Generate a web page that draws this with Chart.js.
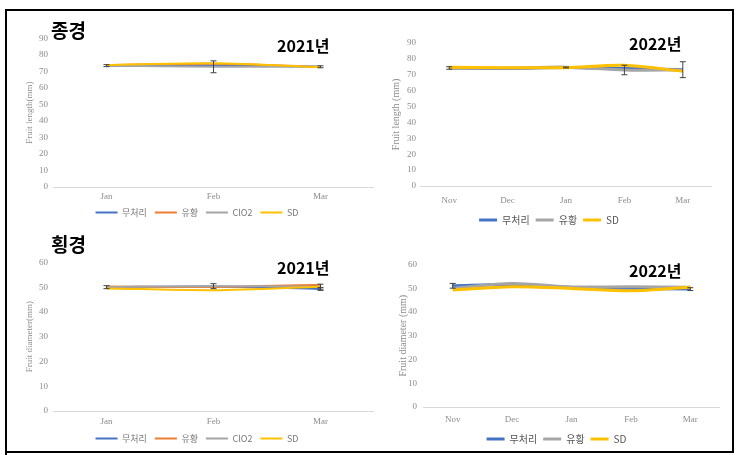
<!DOCTYPE html>
<html><head><meta charset="utf-8">
<script src="https://cdn.jsdelivr.net/npm/chart.js@4/dist/chart.umd.min.js"></script>
<style>
body{margin:0;background:#fff;width:739px;height:455px;position:relative;overflow:hidden;font-family:"Noto Sans CJK KR",sans-serif}
.box{position:absolute}
.t{position:absolute;font-weight:bold;color:#000;line-height:1;white-space:nowrap;font-family:"Noto Sans CJK KR",sans-serif}
#frame{position:absolute;left:5px;top:9px;width:725px;height:440px;border:2px solid #000}
#ext{position:absolute;left:5px;top:451px;width:2px;height:4px;background:#000}
</style></head><body>
<div class="box" id="b1" style="left:20px;top:28px;width:354px;height:199px"><canvas id="c1"></canvas></div>
<div class="box" id="b2" style="left:386px;top:33px;width:326px;height:202px"><canvas id="c2"></canvas></div>
<div class="box" id="b3" style="left:20px;top:252px;width:354px;height:201px"><canvas id="c3"></canvas></div>
<div class="box" id="b4" style="left:393px;top:253px;width:327px;height:201px"><canvas id="c4"></canvas></div>
<div class="t" style="left:51px;top:20px;font-size:19px">종경</div>
<div class="t" style="left:51px;top:234px;font-size:19px">횡경</div>
<div class="t" style="left:277px;top:37px;font-size:16px">2021년</div>
<div class="t" style="left:629px;top:35px;font-size:16px">2022년</div>
<div class="t" style="left:277px;top:259px;font-size:16px">2021년</div>
<div class="t" style="left:629px;top:262px;font-size:16px">2022년</div>
<div id="frame"></div><div id="ext"></div>
<script>
// ---- categories ----
const months2021 = ['Jan', 'Feb', 'Mar'];
const months2022 = ['Nov', 'Dec', 'Jan', 'Feb', 'Mar'];
const names2021 = ['무처리', '유황', 'ClO2', 'SD'];
const names2022 = ['무처리', '유황', 'SD'];

// ---- fruit length 2021 ----
const len2021Control = [73.5, 73.6, 72.8];
const len2021Sulfur  = [73.8, 74.6, 72.8];
const len2021ClO2    = [73.6, 72.8, 73.0];
const len2021SD      = [73.9, 75.0, 72.6];
const len2021ControlErr = [0.6, 0, 0.6];
const len2021ClO2Err    = [0, 3.6, 0];

// ---- fruit length 2022 ----
const len2022Control = [74.3, 74.0, 74.6, 74.0, 73.2];
const len2022Sulfur  = [74.0, 74.2, 74.8, 73.0, 73.0];
const len2022SD      = [74.8, 74.5, 74.5, 76.0, 72.2];
const len2022ControlErr = [0.8, 0, 0.3, 0, 5.0];
const len2022SulfurErr  = [0, 0, 0, 3.0, 0];

// ---- fruit diameter 2021 ----
const dia2021Control = [50.0, 50.3, 49.3];
const dia2021Sulfur  = [50.3, 50.1, 51.0];
const dia2021ClO2    = [50.1, 50.4, 50.2];
const dia2021SD      = [49.5, 48.8, 50.2];
const dia2021ControlErr = [0.6, 0, 0.6];
const dia2021ClO2Err    = [0, 1.0, 1.0];

// ---- fruit diameter 2022 ----
const dia2022Control = [51.0, 51.5, 50.3, 50.0, 49.6];
const dia2022Sulfur  = [50.0, 52.0, 50.5, 50.6, 50.4];
const dia2022SD      = [49.2, 50.6, 49.9, 48.9, 50.4];
const dia2022ControlErr = [1.0, 0, 0, 0, 0.6];

const COLORS = {'무처리':'#4472C4','유황':'#ED7D31','ClO2':'#A5A5A5','SD':'#FFC000'};
const COLORS22 = {'무처리':'#4472C4','유황':'#A5A5A5','SD':'#FFC000'};

const errorBars = {
  id: 'errorBars',
  afterDatasetsDraw(chart) {
    const {ctx, scales: {x, y}} = chart;
    chart.data.datasets.forEach(ds => {
      if (!ds.errors) return;
      ds.data.forEach((v, j) => {
        const e = ds.errors[j]; if (!e) return;
        const px = x.getPixelForValue(j);
        const top = y.getPixelForValue(v + e), bot = y.getPixelForValue(v - e);
        ctx.save(); ctx.strokeStyle = '#404040'; ctx.lineWidth = 1;
        ctx.beginPath();
        ctx.moveTo(px, top); ctx.lineTo(px, bot);
        ctx.moveTo(px - 3, top); ctx.lineTo(px + 3, top);
        ctx.moveTo(px - 3, bot); ctx.lineTo(px + 3, bot);
        ctx.stroke(); ctx.restore();
      });
    });
  }
};

function makeChart(id, cfg) {
  const n = cfg.series.length;
  const datasets = cfg.series.map((s, i) => ({
    label: s.name, data: s.data, errors: s.err,
    borderColor: cfg.colors[s.name], backgroundColor: cfg.colors[s.name],
    borderWidth: cfg.lw, pointRadius: 0, tension: 0.3, order: n - i
  }));
  new Chart(document.getElementById(id), {
    type: 'line',
    data: {labels: cfg.labels, datasets},
    plugins: [errorBars],
    options: {
      responsive: true, maintainAspectRatio: false, animation: false, devicePixelRatio: 1,
      layout: {padding: {top: 10, right: 0, bottom: 0, left: 0}},
      plugins: {
        tooltip: {enabled: false},
        legend: {
          position: 'bottom',
          labels: {
            boxWidth: cfg.boxW, boxHeight: cfg.lw, padding: cfg.legPad,
            color: cfg.legendColor,
            font: {family: '"Noto Sans CJK KR", sans-serif', size: cfg.legendSize},
            sort: (a, b) => a.datasetIndex - b.datasetIndex,
            generateLabels(chart) {
              return Chart.defaults.plugins.legend.labels.generateLabels(chart).map(l => {
                const c = chart.data.datasets[l.datasetIndex].borderColor;
                return Object.assign(l, {fillStyle: c, strokeStyle: c, lineWidth: 0});
              });
            }
          }
        }
      },
      scales: {
        x: {
          offset: true,
          grid: {display: false, drawTicks: false},
          border: {display: true, color: '#d9d9d9', width: 1},
          ticks: {color: '#8c8c8c', padding: cfg.xPad, font: {family: '"Liberation Serif", serif', size: 9}},
          afterFit(s) { s.height = cfg.xh; }
        },
        y: {
          min: 0, max: cfg.max,
          grid: {display: false, drawTicks: false},
          border: {display: false},
          ticks: {stepSize: 10, color: '#8c8c8c', padding: cfg.tickPad, font: {family: '"Liberation Serif", serif', size: 9}},
          title: {display: true, text: cfg.title, color: '#8c8c8c', padding: {top: 4, bottom: 0}, font: {family: '"Liberation Serif", serif', size: cfg.titleSize}},
          afterFit(s) { s.width = cfg.yw; }
        }
      }
    }
  });
}

makeChart('c1', {
  labels: months2021, colors: COLORS, lw: 2, max: 90, title: 'Fruit length(mm)', titleSize: 9,
  legendColor: '#777', legendSize: 9, boxW: 22, legPad: 8, yw: 33, xh: 13, xPad: 4, tickPad: 5,
  series: [
    {name: names2021[0], data: len2021Control, err: len2021ControlErr},
    {name: names2021[1], data: len2021Sulfur},
    {name: names2021[2], data: len2021ClO2, err: len2021ClO2Err},
    {name: names2021[3], data: len2021SD}
  ]
});
makeChart('c2', {
  labels: months2022, colors: COLORS22, lw: 3, max: 90, title: 'Fruit length (mm)', titleSize: 10,
  legendColor: '#555', legendSize: 10, boxW: 18, legPad: 6, yw: 34, xh: 23, xPad: 9, tickPad: 4,
  series: [
    {name: names2022[0], data: len2022Control, err: len2022ControlErr},
    {name: names2022[1], data: len2022Sulfur, err: len2022SulfurErr},
    {name: names2022[2], data: len2022SD}
  ]
});
makeChart('c3', {
  labels: months2021, colors: COLORS, lw: 2, max: 60, title: 'Fruit diameter(mm)', titleSize: 9,
  legendColor: '#777', legendSize: 9, boxW: 22, legPad: 8, yw: 33, xh: 15, xPad: 5, tickPad: 5,
  series: [
    {name: names2021[0], data: dia2021Control, err: dia2021ControlErr},
    {name: names2021[1], data: dia2021Sulfur},
    {name: names2021[2], data: dia2021ClO2, err: dia2021ClO2Err},
    {name: names2021[3], data: dia2021SD}
  ]
});
makeChart('c4', {
  labels: months2022, colors: COLORS22, lw: 3, max: 60, title: 'Fruit diameter (mm)', titleSize: 10,
  legendColor: '#555', legendSize: 10, boxW: 18, legPad: 6, yw: 30, xh: 21, xPad: 7, tickPad: 6,
  series: [
    {name: names2022[0], data: dia2022Control, err: dia2022ControlErr},
    {name: names2022[1], data: dia2022Sulfur},
    {name: names2022[2], data: dia2022SD}
  ]
});
</script>
</body></html>
